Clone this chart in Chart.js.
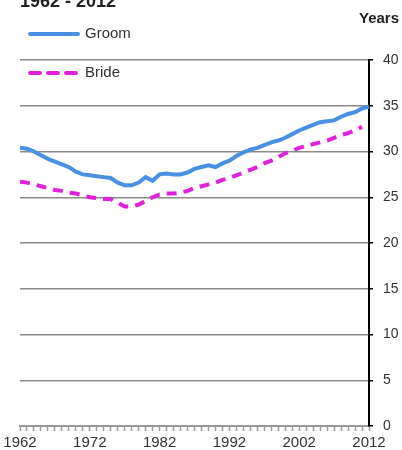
<!DOCTYPE html>
<html>
<head>
<meta charset="utf-8">
<script src="https://cdn.jsdelivr.net/npm/chart.js@4/dist/chart.umd.min.js"></script>
<style>
  html, body { margin: 0; padding: 0; background: #fff; }
  #wrap { position: relative; width: 402px; height: 450px; }
</style>
</head>
<body>
<div id="wrap"><canvas id="ageChart"></canvas></div>
<script>
// Average age at marriage, 1962 - 2012
const years = [];
for (let y = 1962; y <= 2012; y++) years.push(y);

const groomAges = [
    30.4, 30.3, 30.0, 29.6, 29.2, 28.9, 28.6, 28.3, 27.8, 27.5,
    27.4, 27.3, 27.2, 27.1, 26.6, 26.3, 26.3, 26.6, 27.2, 26.8,
    27.5, 27.6, 27.5, 27.5, 27.7, 28.1, 28.3, 28.5, 28.3, 28.7,
    29.0, 29.5, 29.9, 30.2, 30.4, 30.7, 31.0, 31.2, 31.5, 31.9,
    32.3, 32.6, 32.9, 33.2, 33.3, 33.4, 33.8, 34.1, 34.3, 34.7,
    34.9
];
const brideAges = [
    26.7, 26.6, 26.4, 26.2, 26.0, 25.8, 25.7, 25.5, 25.4, 25.2,
    25.0, 24.9, 24.8, 24.8, 24.4, 24.0, 24.0, 24.2, 24.6, 25.0,
    25.3, 25.4, 25.4, 25.5, 25.7, 26.0, 26.2, 26.4, 26.6, 26.9,
    27.1, 27.4, 27.7, 28.0, 28.3, 28.7, 29.0, 29.4, 29.8, 30.1,
    30.4, 30.6, 30.8, 31.0, 31.2, 31.5, 31.8, 32.0, 32.3, 32.7,
    null
];
const yTicks = [0, 5, 10, 15, 20, 25, 30, 35, 40];

const FONT = "'Liberation Sans', Arial, sans-serif";
const groomColor = '#4a90e2';
const brideColor = '#e020dc';

// Title, unit label and the hand-placed legend
const decorations = {
    id: 'decorations',
    afterDraw(chart) {
        const ctx = chart.ctx;
        ctx.save();
        ctx.fillStyle = '#222';
        ctx.textBaseline = 'alphabetic';
        ctx.font = 'bold 18px ' + FONT;
        ctx.textAlign = 'left';
        ctx.fillText('1962 - 2012', 20, 7);
        ctx.font = 'bold 15px ' + FONT;
        ctx.textAlign = 'right';
        ctx.fillText('Years', 399, 23);

        const rows = [34, 73];
        chart.data.datasets.forEach((ds, i) => {
            const y = rows[i];
            ctx.beginPath();
            ctx.strokeStyle = ds.borderColor;
            ctx.lineWidth = 4;
            ctx.lineCap = 'round';
            ctx.setLineDash(ds.borderDash ? [10, 8] : []);
            ctx.moveTo(30, y);
            ctx.lineTo(78, y);
            ctx.stroke();
            ctx.setLineDash([]);
            ctx.fillStyle = '#333';
            ctx.font = '15px ' + FONT;
            ctx.textAlign = 'left';
            ctx.textBaseline = 'middle';
            ctx.fillText(ds.label, 85, y);
        });
        ctx.restore();
    }
};

const ctx = document.getElementById('ageChart');
new Chart(ctx, {
    type: 'line',
    data: {
        labels: years,
        datasets: [{
            label: 'Groom',
            data: groomAges,
            borderColor: groomColor,
            borderWidth: 4,
            pointRadius: 0,
            tension: 0
        }, {
            label: 'Bride',
            data: brideAges,
            borderColor: brideColor,
            borderWidth: 4,
            borderDash: [10, 7],
            pointRadius: 0,
            tension: 0
        }]
    },
    options: {
        responsive: true,
        maintainAspectRatio: false,
        animation: false,
        layout: {
            padding: { top: 60, left: 20, right: 2, bottom: 0 }
        },
        plugins: {
            legend: { display: false },
            tooltip: { enabled: false }
        },
        scales: {
            x: {
                offset: false,
                afterFit: axis => { axis.height = 24; },
                grid: {
                    drawOnChartArea: false,
                    drawTicks: true,
                    tickLength: 5,
                    tickColor: '#999',
                    tickWidth: 1.5
                },
                border: { color: '#999', width: 2 },
                ticks: {
                    autoSkip: false,
                    maxRotation: 0,
                    padding: 3,
                    color: '#333',
                    font: { family: FONT, size: 15 },
                    callback: function(val, i) {
                        const yr = years[i];
                        return (yr - 1962) % 10 === 0 ? String(yr) : '';
                    }
                }
            },
            y: {
                position: 'right',
                min: 0,
                max: 40,
                afterFit: axis => { axis.width = 31; },
                afterBuildTicks: axis => {
                    axis.ticks = yTicks.map(v => ({ value: v }));
                },
                grid: {
                    color: '#8a8a8a',
                    lineWidth: 1.5,
                    tickLength: 4,
                    tickColor: '#000'
                },
                border: { color: '#000', width: 2 },
                ticks: {
                    padding: 10,
                    color: '#333',
                    font: { family: FONT, size: 14 }
                }
            }
        }
    },
    plugins: [decorations]
});
</script>
</body>
</html>
